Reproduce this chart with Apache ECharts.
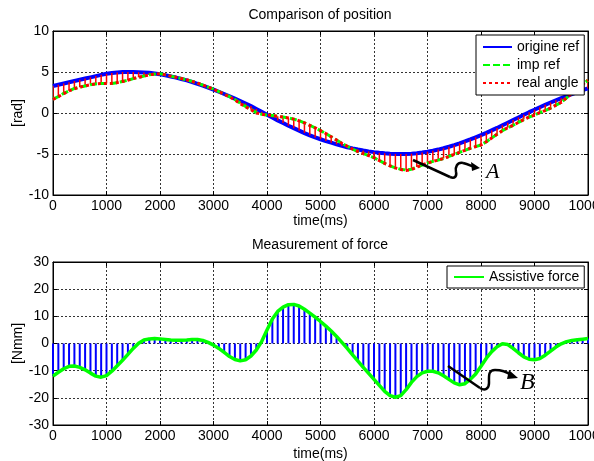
<!DOCTYPE html>
<html>
<head>
<meta charset="utf-8">
<script src="https://cdn.jsdelivr.net/npm/echarts@6/dist/echarts.min.js"></script>
<style>
  html, body { margin: 0; padding: 0; background: #fff; }
  #chart { width: 594px; height: 461px; }
</style>
</head>
<body>
<div id="chart"></div>
<script>
// sample times (ms)
const times = [
  0, 100, 200, 300, 400, 500, 600, 700, 800, 900,
  1000, 1100, 1200, 1300, 1400, 1500, 1600, 1700, 1800, 1900,
  2000, 2100, 2200, 2300, 2400, 2500, 2600, 2700, 2800, 2900,
  3000, 3100, 3200, 3300, 3400, 3500, 3600, 3700, 3800, 3900,
  4000, 4100, 4200, 4300, 4400, 4500, 4600, 4700, 4800, 4900,
  5000, 5100, 5200, 5300, 5400, 5500, 5600, 5700, 5800, 5900,
  6000, 6100, 6200, 6300, 6400, 6500, 6600, 6700, 6800, 6900,
  7000, 7100, 7200, 7300, 7400, 7500, 7600, 7700, 7800, 7900,
  8000, 8100, 8200, 8300, 8400, 8500, 8600, 8700, 8800, 8900,
  9000, 9100, 9200, 9300, 9400, 9500, 9600, 9700, 9800, 9900,
  10000
];

// top plot: position [rad]
const originRef = [
  3.3, 3.45, 3.6, 3.75, 3.9, 4.05, 4.2, 4.35, 4.5, 4.65,
  4.78, 4.88, 4.95, 5.0, 5.0, 5.0, 4.98, 4.95, 4.9, 4.82,
  4.72, 4.6, 4.46, 4.32, 4.15, 3.97, 3.78, 3.56, 3.34, 3.1,
  2.85, 2.59, 2.32, 2.04, 1.75, 1.46, 1.16, 0.85, 0.5, 0.15,
  -0.2, -0.55, -0.9, -1.22, -1.55, -1.85, -2.15, -2.45, -2.72, -2.98,
  -3.2, -3.42, -3.62, -3.82, -4.0, -4.17, -4.32, -4.46, -4.58, -4.68,
  -4.77, -4.85, -4.91, -4.96, -4.99, -5.0, -4.99, -4.96, -4.9, -4.82,
  -4.72, -4.6, -4.46, -4.3, -4.12, -3.92, -3.7, -3.47, -3.22, -2.96,
  -2.7, -2.42, -2.12, -1.82, -1.5, -1.18, -0.86, -0.54, -0.22, 0.1,
  0.4, 0.7, 1.0, 1.28, 1.55, 1.8, 2.05, 2.3, 2.55, 2.78,
  3.0
];
const impRef = [
  1.7, 2.0, 2.4, 2.7, 3.0, 3.15, 3.3, 3.45, 3.55, 3.6,
  3.6, 3.6, 3.7, 3.85, 4.0, 4.2, 4.35, 4.5, 4.65, 4.75,
  4.8, 4.65, 4.5, 4.35, 4.2, 4.05, 3.85, 3.65, 3.4, 3.15,
  2.9, 2.6, 2.3, 2.0, 1.65, 1.2, 0.8, 0.45, 0.05, -0.15,
  -0.25, -0.3, -0.4, -0.5, -0.6, -0.75, -0.95, -1.2, -1.5, -1.8,
  -2.15, -2.5, -2.9, -3.3, -3.7, -4.05, -4.4, -4.7, -4.95, -5.2,
  -5.45, -5.8, -6.15, -6.45, -6.7, -6.85, -6.95, -6.85, -6.6, -6.35,
  -6.1, -5.9, -5.75, -5.55, -5.3, -5.05, -4.8, -4.55, -4.3, -4.1,
  -3.9, -3.5, -3.05, -2.6, -2.15, -1.8, -1.5, -1.15, -0.8, -0.5,
  -0.25, 0.05, 0.3, 0.6, 0.95, 1.3, 1.85, 2.4, 3.0, 3.5,
  4.0
];
const realAngle = [
  1.65, 2.0, 2.35, 2.7, 2.95, 3.15, 3.3, 3.45, 3.55, 3.6,
  3.6, 3.62, 3.7, 3.85, 4.0, 4.2, 4.35, 4.5, 4.65, 4.75,
  4.8, 4.65, 4.5, 4.35, 4.2, 4.05, 3.85, 3.65, 3.4, 3.15,
  2.9, 2.6, 2.3, 1.95, 1.6, 1.15, 0.75, 0.4, 0.0, -0.15,
  -0.25, -0.3, -0.4, -0.5, -0.6, -0.75, -0.95, -1.2, -1.5, -1.8,
  -2.15, -2.5, -2.9, -3.3, -3.7, -4.05, -4.4, -4.7, -4.95, -5.2,
  -5.45, -5.8, -6.15, -6.45, -6.7, -6.9, -7.0, -6.9, -6.6, -6.35,
  -6.1, -5.9, -5.75, -5.55, -5.3, -5.05, -4.8, -4.55, -4.3, -4.1,
  -3.9, -3.5, -3.05, -2.6, -2.15, -1.8, -1.5, -1.15, -0.8, -0.5,
  -0.25, 0.05, 0.3, 0.6, 0.95, 1.3, 1.85, 2.4, 3.0, 3.5,
  4.0
];

// bottom plot: assistive force [Nmm]
const assistiveForce = [
  -12.0, -10.6, -9.3, -8.4, -8.3, -8.8, -9.7, -10.9, -12.0, -12.4,
  -11.8, -10.2, -8.2, -6.2, -4.0, -1.8, 0.1, 1.3, 1.7, 1.8,
  1.7, 1.5, 1.3, 1.2, 1.2, 1.3, 1.5, 1.5, 1.1, 0.4,
  -0.6, -1.8, -3.3, -4.8, -5.9, -6.4, -6.0, -4.6, -2.4, 0.7,
  5.0, 9.0, 11.8, 13.4, 14.3, 14.4, 13.8, 12.6, 11.2, 9.7,
  8.1, 6.4, 4.6, 2.6, 0.4, -1.8, -4.2, -6.5, -8.8, -11.0,
  -13.2, -15.4, -17.6, -19.2, -19.8, -19.2, -17.0, -14.3, -12.2, -10.8,
  -10.2, -10.2, -10.8, -11.9, -13.2, -14.5, -15.2, -14.8, -13.2, -11.2,
  -8.4, -5.4, -3.0, -1.2, -0.1, -0.4, -1.8, -3.4, -4.9, -5.8,
  -6.0, -5.5, -4.3, -2.8, -1.3, -0.1, 0.7, 1.1, 1.4, 1.6,
  1.8
];

const xTicks = [0, 10000, 1000];   // min, max, step
const posTicks = [-10, 10, 5];
const forceTicks = [-30, 30, 10];

const FONT = 'Liberation Sans, Arial, sans-serif';

const pairs = (ys) => times.map((t, i) => [t, ys[i]]);

function xAxisFor(grid, pos, gap) {
  const main = pos === 'bottom';
  return {
    type: 'value', gridIndex: grid, position: pos,
    min: xTicks[0], max: xTicks[1], interval: xTicks[2],
    name: main ? 'time(ms)' : '', nameLocation: 'middle', nameGap: gap || 20,
    nameTextStyle: { fontSize: 14, color: '#000', fontFamily: FONT },
    axisLine: { onZero: false, lineStyle: { color: '#000', width: 1 } },
    axisTick: { inside: true, length: 4, lineStyle: { color: '#000' } },
    axisLabel: { show: main, fontSize: 14, color: '#000', margin: 4, fontFamily: FONT,
                 alignMaxLabel: 'center', formatter: (v) => String(v) },
    splitLine: { show: main, lineStyle: { color: '#333', type: [2, 2], width: 1 } }
  };
}

function yAxisFor(grid, pos, ticks, name) {
  const main = pos === 'left';
  return {
    type: 'value', gridIndex: grid, position: pos,
    min: ticks[0], max: ticks[1], interval: ticks[2],
    name: main ? name : '', nameLocation: 'middle', nameGap: 28, nameMoveOverlap: false,
    nameTextStyle: { fontSize: 14, color: '#000', fontFamily: FONT },
    axisLine: { onZero: false, lineStyle: { color: '#000', width: 1 } },
    axisTick: { inside: true, length: 4, lineStyle: { color: '#000' } },
    axisLabel: { show: main, fontSize: 14, color: '#000', margin: 4, fontFamily: FONT },
    splitLine: { show: main, lineStyle: { color: '#333', type: [2, 2], width: 1 } }
  };
}

// squiggly annotation arrow: straight stroke, s-bend, arrowhead
function squiggle(seg, curves, head) {
  const els = [{ type: 'line', z: 20, shape: seg, style: { stroke: '#000', lineWidth: 2.5 } }];
  curves.forEach((c) => els.push({ type: 'bezierCurve', z: 20, shape: c,
    style: { stroke: '#000', lineWidth: 2.5, fill: null } }));
  els.push({ type: 'polygon', z: 20, shape: { points: head }, style: { fill: '#000' } });
  return els;
}

const arrowA = squiggle(
  { x1: 413, y1: 160, x2: 450, y2: 177 },
  [
    { x1: 450, y1: 177, cpx1: 455, cpy1: 179, cpx2: 457, cpy2: 176, x2: 456, y2: 172 },
    { x1: 456, y1: 172, cpx1: 455, cpy1: 167, cpx2: 457, cpy2: 162, x2: 463, y2: 163 },
    { x1: 463, y1: 163, cpx1: 468, cpy1: 164, cpx2: 471, cpy2: 166, x2: 474, y2: 167 }
  ],
  [[480, 168], [471, 162], [472, 171]]
);
const arrowB = squiggle(
  { x1: 448, y1: 366, x2: 480, y2: 388 },
  [
    { x1: 480, y1: 388, cpx1: 485, cpy1: 391, cpx2: 489, cpy2: 389, x2: 489, y2: 383 },
    { x1: 489, y1: 383, cpx1: 489, cpy1: 376, cpx2: 488, cpy2: 370, x2: 495, y2: 370 },
    { x1: 495, y1: 370, cpx1: 503, cpy1: 370, cpx2: 507, cpy2: 372, x2: 511, y2: 375 }
  ],
  [[518, 378], [509, 370], [507, 379]]
);

const chart = echarts.init(document.getElementById('chart'));

const legendBase = {
  orient: 'vertical',
  backgroundColor: '#fff', borderColor: '#000', borderWidth: 1,
  selectedMode: false, z: 10,
  itemStyle: { opacity: 0 },
  textStyle: { fontSize: 14, color: '#000', fontFamily: FONT }
};

const option = {
  animation: false,
  backgroundColor: '#fff',
  textStyle: { fontFamily: FONT },
  grid: [
    { left: 53, top: 31, width: 535, height: 164, outerBoundsMode: 'none', containLabel: false,
      show: true, borderColor: '#000', borderWidth: 1, backgroundColor: '#fff' },
    { left: 53, top: 262, width: 535, height: 163, outerBoundsMode: 'none', containLabel: false,
      show: true, borderColor: '#000', borderWidth: 1, backgroundColor: '#fff' }
  ],
  xAxis: [
    xAxisFor(0, 'bottom', 19), xAxisFor(1, 'bottom', 22),
    xAxisFor(0, 'top'), xAxisFor(1, 'top')
  ],
  yAxis: [
    yAxisFor(0, 'left', posTicks, '[rad]'), yAxisFor(1, 'left', forceTicks, '[Nmm]'),
    yAxisFor(0, 'right', posTicks, ''), yAxisFor(1, 'right', forceTicks, '')
  ],
  legend: [
    Object.assign({}, legendBase, {
      data: ['origine ref', 'imp ref', 'real angle'],
      left: 476, top: 35,
      padding: [5, 5, 5, 6], itemGap: 4, itemWidth: 29, itemHeight: 14
    }),
    Object.assign({}, legendBase, {
      data: ['Assistive force'],
      left: 447, top: 266,
      padding: [4, 5, 4, 6], itemWidth: 30, itemHeight: 14
    })
  ],
  series: [
    {
      name: 'origine ref', type: 'line', xAxisIndex: 0, yAxisIndex: 0,
      data: pairs(originRef), symbol: 'none', showSymbol: false, z: 2,
      itemStyle: { color: '#0000ff' },
      lineStyle: { color: '#0000ff', width: 4 }
    },
    {
      name: 'deviation', type: 'custom', xAxisIndex: 0, yAxisIndex: 0,
      data: times.map((t, i) => [t, originRef[i], realAngle[i]]),
      encode: { x: 0, y: [1, 2] }, clip: true, z: 3,
      renderItem: function (params, api) {
        const p1 = api.coord([api.value(0), api.value(1)]);
        const p2 = api.coord([api.value(0), api.value(2)]);
        return {
          type: 'line',
          shape: { x1: p1[0], y1: p1[1], x2: p2[0], y2: p2[1] },
          style: { stroke: '#ff0000', lineWidth: 1.5 }
        };
      }
    },
    {
      name: 'imp ref', type: 'line', xAxisIndex: 0, yAxisIndex: 0,
      data: pairs(impRef), symbol: 'none', showSymbol: false, z: 4,
      itemStyle: { color: '#00ff00' },
      lineStyle: { color: '#00ff00', width: 3, type: [7, 3] }
    },
    {
      name: 'real angle', type: 'line', xAxisIndex: 0, yAxisIndex: 0,
      data: pairs(realAngle), symbol: 'none', showSymbol: false, z: 5,
      itemStyle: { color: '#ff0000' },
      lineStyle: { color: '#ff0000', width: 3, type: [3, 3] }
    },
    {
      name: 'force stems', type: 'bar', xAxisIndex: 1, yAxisIndex: 1,
      data: pairs(assistiveForce), barWidth: 2, z: 2,
      itemStyle: { color: '#0000ff' }
    },
    {
      name: 'Assistive force', type: 'line', xAxisIndex: 1, yAxisIndex: 1,
      data: pairs(assistiveForce), symbol: 'none', showSymbol: false, z: 4,
      itemStyle: { color: '#00ff00' },
      lineStyle: { color: '#00ff00', width: 3.5 }
    }
  ],
  graphic: [
    { type: 'text', x: 320, y: 15, z: 20,
      style: { text: 'Comparison of position', fontSize: 14, fontFamily: FONT, fill: '#000', align: 'center', verticalAlign: 'middle' } },
    { type: 'text', x: 320, y: 245, z: 20,
      style: { text: 'Measurement of force', fontSize: 14, fontFamily: FONT, fill: '#000', align: 'center', verticalAlign: 'middle' } },
    ...arrowA,
    { type: 'text', x: 486, y: 172, z: 20,
      style: { text: 'A', fontSize: 22, fontStyle: 'italic', fontFamily: 'Liberation Serif, serif', fill: '#000', verticalAlign: 'middle' } },
    ...arrowB,
    { type: 'text', x: 520, y: 383, z: 20,
      style: { text: 'B', fontSize: 24, fontStyle: 'italic', fontFamily: 'Liberation Serif, serif', fill: '#000', verticalAlign: 'middle' } }
  ]
};

chart.setOption(option);
</script>
</body>
</html>
